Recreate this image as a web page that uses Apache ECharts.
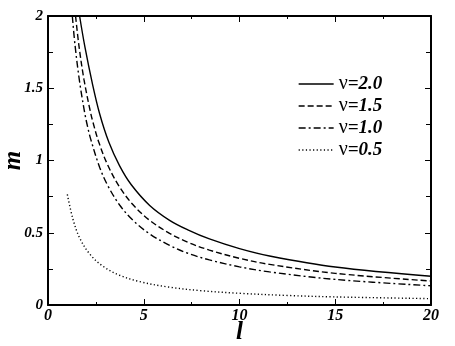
<!DOCTYPE html>
<html>
<head>
<meta charset="utf-8">
<script src="https://cdn.jsdelivr.net/npm/echarts@6/dist/echarts.min.js"></script>
<style>html,body{margin:0;padding:0;background:#fff}#c{width:455px;height:346px}</style>
</head>
<body>
<div id="c"></div>
<script>
const seriesNames = ['2.0', '1.5', '1.0', '0.5'];
const l_nu20 = [1.65, 1.93, 2.31, 2.70, 3.18, 3.74, 4.35, 5.31, 6.35, 7.30, 8.43, 10, 11.57, 15, 20];
const m_nu20 = [2.00, 1.784, 1.537, 1.322, 1.126, 0.963, 0.832, 0.689, 0.586, 0.520, 0.457, 0.39, 0.339, 0.263, 0.199];
const l_nu15 = [1.44, 1.62, 1.88, 2.18, 2.35, 2.66, 3.13, 3.74, 4.43, 5.30, 6.35, 7.30, 8.43, 10, 11.57, 15, 20];
const m_nu15 = [2.00, 1.79, 1.559, 1.358, 1.264, 1.124, 0.965, 0.816, 0.695, 0.587, 0.496, 0.434, 0.380, 0.323, 0.281, 0.219, 0.166];
const l_nu10 = [1.27, 1.41, 1.65, 1.90, 2.03, 2.23, 2.70, 3.13, 3.74, 4.43, 5.31, 6.35, 7.30, 8.43, 10, 11.57, 15, 20];
const m_nu10 = [2.00, 1.80, 1.545, 1.342, 1.256, 1.148, 0.952, 0.824, 0.692, 0.587, 0.492, 0.413, 0.358, 0.312, 0.264, 0.229, 0.177, 0.133];
const l_nu05 = [1.01, 1.30, 1.65, 2.18, 2.87, 3.74, 4.78, 6.26, 8.00, 10, 12.5, 15, 20];
const m_nu05 = [0.765, 0.595, 0.465, 0.353, 0.268, 0.206, 0.162, 0.125, 0.099, 0.081, 0.066, 0.056, 0.044];
const xTicks = [0, 5, 10, 15, 20];
const yTicks = [0, 0.5, 1, 1.5, 2];

const pairs = (xs, ys) => xs.map((x, i) => [x, ys[i]]);
const dashes = ['solid', [6, 3], [7, 3, 2, 3], [1.2, 2.4]];
const allL = [l_nu20, l_nu15, l_nu10, l_nu05];
const allM = [m_nu20, m_nu15, m_nu10, m_nu05];

const serif = 'Liberation Serif';
const xLabel = {fontFamily: serif, fontWeight: 'bold', fontStyle: 'italic', fontSize: 16, color: '#000'};
const yLabel = {fontFamily: serif, fontWeight: 'bold', fontStyle: 'italic', fontSize: 15, color: '#000'};

const chart = echarts.init(document.getElementById('c'), null, {renderer: 'canvas'});
const axLine = {show: true, onZero: false, lineStyle: {color: '#000', width: 2}};

chart.setOption({
  animation: false,
  grid: {left: 48, right: 24, top: 16, bottom: 41, containLabel: false, outerBoundsMode: 'none'},
  legend: {
    orient: 'vertical', left: 293, top: 69, itemGap: 2, itemWidth: 35, itemHeight: 14,
    data: seriesNames.map(n => 'v' + n),
    formatter: name => '{a|ν}{b|=' + name.slice(1) + '}',
    itemStyle: {color: 'rgba(0,0,0,0)', borderWidth: 0, opacity: 0},
    lineStyle: {width: 1.3},
    textStyle: {
      padding: [0, 0, 0, 0],
      rich: {
        a: {fontFamily: serif, fontSize: 20, color: '#000', lineHeight: 17},
        b: {fontFamily: serif, fontSize: 19, fontWeight: 'bold', fontStyle: 'italic', color: '#000', lineHeight: 17}
      }
    }
  },
  xAxis: [{
    type: 'value', min: 0, max: 20, interval: 5, position: 'bottom',
    name: 'l', nameLocation: 'middle', nameGap: 15, nameMoveOverlap: false,
    nameTextStyle: {fontFamily: serif, fontWeight: 'bold', fontStyle: 'italic', fontSize: 25, color: '#000'},
    axisLine: axLine,
    axisTick: {inside: true, length: 6, lineStyle: {color: '#000', width: 1}},
    minorTick: {show: true, splitNumber: 2, length: 3, lineStyle: {color: '#000', width: 1}},
    axisLabel: Object.assign({margin: 3, customValues: xTicks}, xLabel),
    splitLine: {show: false}
  }, {
    type: 'value', min: 0, max: 20, interval: 5, position: 'top',
    axisLine: axLine,
    axisTick: {inside: true, length: 6, lineStyle: {color: '#000', width: 1}},
    minorTick: {show: true, splitNumber: 2, length: 3, lineStyle: {color: '#000', width: 1}},
    axisLabel: {show: false}, splitLine: {show: false}
  }],
  yAxis: [{
    type: 'value', min: 0, max: 2, interval: 0.5, position: 'left',
    name: 'm', nameLocation: 'middle', nameGap: 22, nameRotate: 90, nameMoveOverlap: false,
    nameTextStyle: {fontFamily: serif, fontWeight: 'bold', fontStyle: 'italic', fontSize: 25, color: '#000'},
    axisLine: axLine,
    axisTick: {inside: true, length: 6, lineStyle: {color: '#000', width: 1}},
    minorTick: {show: true, splitNumber: 2, length: 5, lineStyle: {color: '#000', width: 1}},
    axisLabel: Object.assign({margin: 5, customValues: yTicks}, yLabel),
    splitLine: {show: false}
  }, {
    type: 'value', min: 0, max: 2, interval: 0.5, position: 'right',
    axisLine: axLine,
    axisTick: {inside: true, length: 6, lineStyle: {color: '#000', width: 1}},
    minorTick: {show: true, splitNumber: 2, length: 5, lineStyle: {color: '#000', width: 1}},
    axisLabel: {show: false}, splitLine: {show: false}
  }],
  series: seriesNames.map((n, i) => ({
    name: 'v' + n, type: 'line', xAxisIndex: 0, yAxisIndex: 0,
    data: pairs(allL[i], allM[i]),
    smooth: 0.35, symbol: 'none', clip: true,
    lineStyle: {color: '#000', width: 1.4, type: dashes[i]},
    itemStyle: {color: '#000'}
  }))
});
</script>
</body>
</html>
